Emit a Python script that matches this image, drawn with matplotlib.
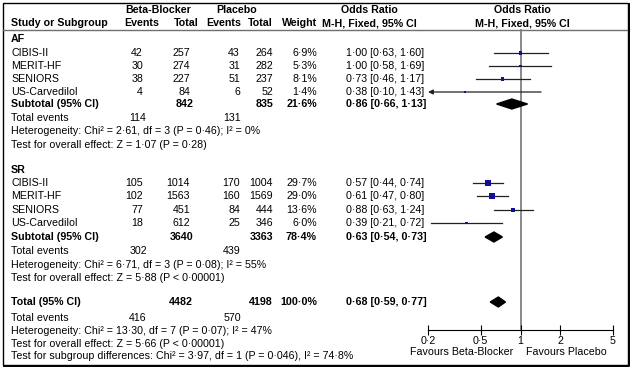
import matplotlib.pyplot as plt
from matplotlib.patches import Polygon, Rectangle

plt.rcParams['font.family'] = ['Liberation Sans', 'DejaVu Sans']

# ---- data ----
af_names = ["CIBIS-II", "MERIT-HF", "SENIORS", "US-Carvedilol"]
af_bb_events = [42, 30, 38, 4]
af_bb_total = [257, 274, 227, 84]
af_pl_events = [43, 31, 51, 6]
af_pl_total = [264, 282, 237, 52]
af_weight = [6.9, 5.3, 8.1, 1.4]
af_or = [1.00, 1.00, 0.73, 0.38]
af_lo = [0.63, 0.58, 0.46, 0.10]
af_hi = [1.60, 1.69, 1.17, 1.43]
af_sub = [842, 835, 21.6, 0.86, 0.66, 1.13]
af_tot_events = [114, 131]
af_het = "Heterogeneity: Chi² = 2·61, df = 3 (P = 0·46); I² = 0%"
af_test = "Test for overall effect: Z = 1·07 (P = 0·28)"

sr_names = ["CIBIS-II", "MERIT-HF", "SENIORS", "US-Carvedilol"]
sr_bb_events = [105, 102, 77, 18]
sr_bb_total = [1014, 1563, 451, 612]
sr_pl_events = [170, 160, 84, 25]
sr_pl_total = [1004, 1569, 444, 346]
sr_weight = [29.7, 29.0, 13.6, 6.0]
sr_or = [0.57, 0.61, 0.88, 0.39]
sr_lo = [0.44, 0.47, 0.63, 0.21]
sr_hi = [0.74, 0.80, 1.24, 0.72]
sr_sub = [3640, 3363, 78.4, 0.63, 0.54, 0.73]
sr_tot_events = [302, 439]
sr_het = "Heterogeneity: Chi² = 6·71, df = 3 (P = 0·08); I² = 55%"
sr_test = "Test for overall effect: Z = 5·88 (P < 0·00001)"

all_tot = [4482, 4198, 100.0, 0.68, 0.59, 0.77]
all_tot_events = [416, 570]
all_het = "Heterogeneity: Chi² = 13·30, df = 7 (P = 0·07); I² = 47%"
all_test = "Test for overall effect: Z = 5·66 (P < 0·00001)"
sub_diff = "Test for subgroup differences: Chi² = 3·97, df = 1 (P = 0·046), I² = 74·8%"

ticks = [0.2, 0.5, 1, 2, 5]


def dot(s):
    return s.replace(".", "·")


def orfmt(e, lo, hi):
    return dot(f"{e:.2f} [{lo:.2f}, {hi:.2f}]")


# ---- layout (pixel rows) ----
W, H = 632, 369
FS = 7.7
af_rows = [53, 66, 79, 92]
sr_rows = [183, 196, 210, 223]
X_NAME, X_BBE, X_BBT, X_PLE, X_PLT, X_W, X_OR = 11, 143, 190, 240, 273, 317, 346
X_TE_BB, X_TE_PL = 138, 232
MARK = '#10109a'

fig = plt.figure(figsize=(W / 100, H / 100), dpi=100)
tab = fig.add_axes([0, 0, 1, 1])
tab.set_xlim(0, W)
tab.set_ylim(H, 0)
tab.axis('off')

fx = fig.add_axes([428 / W, 0, 185 / W, 1])
fx.set_xscale('log')
fx.set_xlim(0.2, 5)
fx.set_ylim(H, 0)
fx.patch.set_visible(False)


def t(x, y, s, ha='left', bold=False):
    tab.text(x, y, s, ha=ha, va='center', fontsize=FS,
             fontweight='bold' if bold else 'normal')


# header
t(158, 10, "Beta-Blocker", 'center', True)
t(237, 10, "Placebo", 'center', True)
t(369, 10, "Odds Ratio", 'center', True)
t(522, 10, "Odds Ratio", 'center', True)
t(X_NAME, 23, "Study or Subgroup", bold=True)
t(159, 23, "Events", 'right', True)
t(199, 23, "Total", 'right', True)
t(241, 23, "Events", 'right', True)
t(273, 23, "Total", 'right', True)
t(317, 23, "Weight", 'right', True)
t(369, 23, "M-H, Fixed, 95% CI", 'center', True)
t(522, 23, "M-H, Fixed, 95% CI", 'center', True)
tab.plot([3, 629], [30, 30], color='#707070', lw=1)
tab.add_patch(Rectangle((3, 3), 625, 362, fill=False, ec='black', lw=1.0))
tab.plot([629, 629, 4], [4, 366, 366], color='black', lw=1.4)


def diamond(y, e, lo, hi, h=10):
    fx.add_patch(Polygon([(lo, y), (e, y - h / 2), (hi, y), (e, y + h / 2)],
                         closed=True, color='black', zorder=3))


def group(label, y0, names, rows, bbe, bbt, ple, plt_, w, est, lo, hi,
          sub, te, het, test, sub_y, te_y):
    t(X_NAME, y0, label, bold=True)
    for i, y in enumerate(rows):
        t(X_NAME, y, names[i])
        t(X_BBE, y, str(bbe[i]), 'right')
        t(X_BBT, y, str(bbt[i]), 'right')
        t(X_PLE, y, str(ple[i]), 'right')
        t(X_PLT, y, str(plt_[i]), 'right')
        t(X_W, y, dot(f"{w[i]:.1f}%"), 'right')
        t(X_OR, y, orfmt(est[i], lo[i], hi[i]))
        if lo[i] < 0.2:
            fx.annotate('', xy=(0.2, y), xytext=(hi[i], y),
                        arrowprops=dict(arrowstyle='-|>', color='#222222',
                                        lw=0.9, mutation_scale=7,
                                        shrinkA=0, shrinkB=0))
        else:
            fx.plot([lo[i], hi[i]], [y, y], color='#222222', lw=0.9)
    fx.scatter(est, rows, s=[v * 0.7 for v in w], marker='s', color=MARK,
               zorder=3, linewidths=0)
    diamond(sub_y, sub[3], sub[4], sub[5])
    t(X_NAME, sub_y, "Subtotal (95% CI)", bold=True)
    t(X_BBT + 3, sub_y, str(sub[0]), 'right', True)
    t(X_PLT, sub_y, str(sub[1]), 'right', True)
    t(X_W, sub_y, dot(f"{sub[2]:.1f}%"), 'right', True)
    t(X_OR, sub_y, orfmt(sub[3], sub[4], sub[5]), bold=True)
    t(X_NAME, te_y, "Total events")
    t(X_TE_BB, te_y, str(te[0]), 'center')
    t(X_TE_PL, te_y, str(te[1]), 'center')
    t(X_NAME, te_y + 13.5, het)
    t(X_NAME, te_y + 27, test)


group("AF", 39, af_names, af_rows, af_bb_events, af_bb_total, af_pl_events,
      af_pl_total, af_weight, af_or, af_lo, af_hi, af_sub, af_tot_events,
      af_het, af_test, 104, 118)
group("SR", 170, sr_names, sr_rows, sr_bb_events, sr_bb_total, sr_pl_events,
      sr_pl_total, sr_weight, sr_or, sr_lo, sr_hi, sr_sub, sr_tot_events,
      sr_het, sr_test, 237, 251)

# overall total
ty = 302
diamond(ty, all_tot[3], all_tot[4], all_tot[5])
t(X_NAME, ty, "Total (95% CI)", bold=True)
t(X_BBT + 3, ty, str(all_tot[0]), 'right', True)
t(X_PLT, ty, str(all_tot[1]), 'right', True)
t(X_W, ty, dot(f"{all_tot[2]:.1f}%"), 'right', True)
t(X_OR, ty, orfmt(all_tot[3], all_tot[4], all_tot[5]), bold=True)
t(X_NAME, 318, "Total events")
t(X_TE_BB, 318, str(all_tot_events[0]), 'center')
t(X_TE_PL, 318, str(all_tot_events[1]), 'center')
t(X_NAME, 331, all_het)
t(X_NAME, 344, all_test)
t(X_NAME, 356, sub_diff)

# forest axis
fx.plot([1, 1], [30, 330], color='#808080', lw=1.3, zorder=1)
for s in ['top', 'left', 'right']:
    fx.spines[s].set_visible(False)
fx.spines['bottom'].set_position(('data', 330))
fx.spines['bottom'].set_linewidth(0.8)
fx.set_yticks([])
fx.set_xticks(ticks)
fx.xaxis.set_minor_locator(plt.NullLocator())
fx.set_xticklabels([dot(str(v)) for v in ticks], fontsize=FS)
fx.tick_params(axis='x', direction='inout', length=7, width=0.8, pad=1)
fx.annotate("Favours Beta-Blocker", xy=(1, 352), xytext=(-5, 0),
            textcoords='offset points', ha='right', va='center', fontsize=FS)
fx.annotate("Favours Placebo", xy=(1, 352), xytext=(4, 0),
            textcoords='offset points', ha='left', va='center', fontsize=FS)

fig.savefig("out.png", dpi=100)
